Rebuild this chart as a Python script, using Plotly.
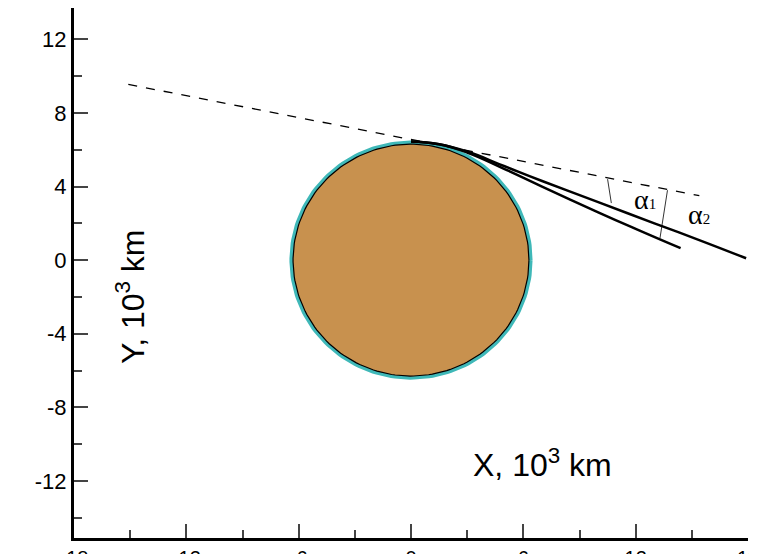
import numpy as np
import plotly.graph_objects as go

R = 6.4
dash_x = [-15.1, 15.4]
dash_y = [9.55, 3.5]
c1_x = [0, 1.5, 3, 5, 7, 10, 12, 14.4]
c1_y = [6.45, 6.3, 5.85, 4.95, 4.0, 2.6, 1.7, 0.65]
c2_x = [0, 1.5, 3, 5, 7, 10, 13, 15.5, 17.9]
c2_y = [6.45, 6.3, 5.9, 5.1, 4.3, 3.15, 2.0, 1.05, 0.1]
a1_x = [10.5, 10.7]; a1_y = [4.4, 3.1]
a2_x = [13.7, 13.3]; a2_y = [3.8, 1.2]
xticks = [-18, -12, -6, 0, 6, 12, 18]
yticks = [-12, -8, -4, 0, 4, 8, 12]

t = np.linspace(0, 2*np.pi, 200)
fig = go.Figure()
fig.add_trace(go.Scatter(x=R*np.cos(t), y=R*np.sin(t), fill="toself", fillcolor="#C8914E",
                         mode="lines", line=dict(color="#3FB8B8", width=3.5), hoverinfo="skip"))
fig.add_trace(go.Scatter(x=(R-0.1)*np.cos(t), y=(R-0.1)*np.sin(t), mode="lines",
                         line=dict(color="black", width=1.2)))
fig.add_trace(go.Scatter(x=dash_x, y=dash_y, mode="lines", line=dict(color="black", width=1.3, dash="dash")))
fig.add_trace(go.Scatter(x=c1_x, y=c1_y, mode="lines", line=dict(color="black", width=2.5, shape="spline", smoothing=1.3)))
fig.add_trace(go.Scatter(x=c2_x, y=c2_y, mode="lines", line=dict(color="black", width=2.5, shape="spline", smoothing=1.3)))
fig.add_trace(go.Scatter(x=a1_x, y=a1_y, mode="lines", line=dict(color="black", width=0.8)))
fig.add_trace(go.Scatter(x=a2_x, y=a2_y, mode="lines", line=dict(color="black", width=0.8)))

fig.add_annotation(x=12.5, y=3.3, text="α<span style='font-size:15px'>1</span>", showarrow=False, font=dict(family="Liberation Serif", size=28, color="black"))
fig.add_annotation(x=15.4, y=2.5, text="α<span style='font-size:15px'>2</span>", showarrow=False, font=dict(family="Liberation Serif", size=28, color="black"))
fig.add_annotation(x=7, y=-11, text="X, 10<sup>3</sup> km", showarrow=False, font=dict(size=32, color="black"))
fig.add_annotation(x=-15, y=-2, text="Y, 10<sup>3</sup> km", textangle=-90, showarrow=False, font=dict(size=32, color="black"))

fig.update_layout(width=757, height=554, showlegend=False, plot_bgcolor="white", paper_bgcolor="white",
                  margin=dict(l=66, r=17, t=0, b=24),
                  font=dict(family="Liberation Sans Narrow, Liberation Sans, Arial", size=22, color="black"))
fig.update_xaxes(range=[-18, 18], tickvals=xticks, ticktext=[str(v) for v in xticks], ticks="inside", ticklen=14, tickwidth=2,
                 showline=True, linecolor="black", linewidth=3, showgrid=False, zeroline=False,
                 minor=dict(dtick=3, ticks="inside", ticklen=8, tickwidth=2, tick0=0),
                 automargin=False, ticklabelstandoff=0, tickfont=dict(size=20))
fig.update_yaxes(range=[-15.1, 13.7], tickvals=yticks, ticktext=[str(v) for v in yticks], ticks="inside", ticklen=14, tickwidth=2,
                 showline=True, linecolor="black", linewidth=3, showgrid=False, zeroline=False,
                 minor=dict(dtick=2, ticks="inside", ticklen=8, tickwidth=2, tick0=0),
                 automargin=False)
fig.write_html("out.html")
